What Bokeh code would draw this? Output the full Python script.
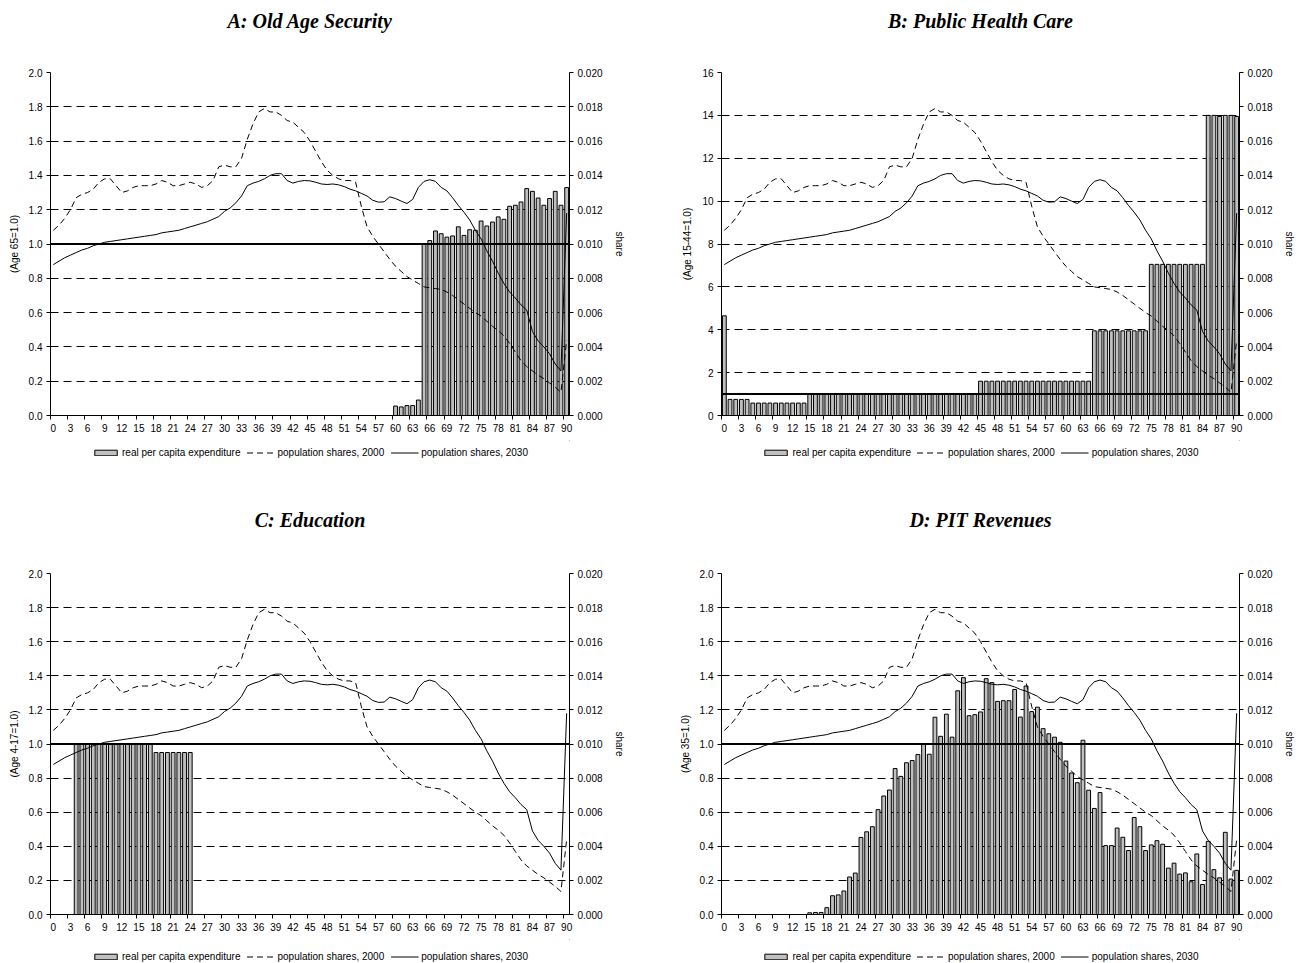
from bokeh.plotting import figure
from bokeh.models import (Range1d, LinearAxis, FixedTicker, Span, Legend, LegendItem,
                          NumeralTickFormatter, Title)
from bokeh.layouts import column, row
from bokeh.embed import file_html
from bokeh.resources import INLINE

# ---------------- data ----------------
ages = list(range(91))
label_ages = list(range(0, 91, 3))

# population shares by single year of age
pop_2000 = [0.0108, 0.0111, 0.0115, 0.0120, 0.0127, 0.0129, 0.0130, 0.0132, 0.0136, 0.0138,
            0.0138, 0.0134, 0.0130, 0.0131, 0.0133, 0.0134, 0.0134, 0.0134, 0.0135, 0.0137,
            0.0136, 0.0134, 0.0134, 0.0135, 0.0136, 0.0135, 0.0133, 0.0134, 0.0137, 0.0145,
            0.0146, 0.0145, 0.0145, 0.0150, 0.0161, 0.0170, 0.0177, 0.0179, 0.0177, 0.0177,
            0.0175, 0.0172, 0.0171, 0.0168, 0.0165, 0.0160, 0.0154, 0.0148, 0.0143, 0.0140,
            0.0138, 0.0137, 0.0137, 0.0136, 0.0122, 0.0110, 0.01045, 0.0100, 0.00955, 0.0091,
            0.0087, 0.0084, 0.0081, 0.0079, 0.0077, 0.0075, 0.00745, 0.0074, 0.00735, 0.0072,
            0.0070, 0.00675, 0.0065, 0.00625, 0.0060, 0.0058, 0.0055, 0.0052, 0.00495, 0.00465,
            0.0042, 0.0037, 0.0032, 0.00285, 0.0026, 0.00235, 0.00215, 0.0019, 0.00165, 0.00135,
            0.0044]
pop_2030 = [0.0088, 0.0090, 0.0092, 0.00935, 0.0095, 0.00965, 0.00975, 0.0099, 0.0100, 0.0101,
            0.01015, 0.0102, 0.01025, 0.0103, 0.01035, 0.0104, 0.01045, 0.0105, 0.01055, 0.01065,
            0.0107, 0.01075, 0.0108, 0.0109, 0.0110, 0.0111, 0.0112, 0.0113, 0.01145, 0.0116,
            0.0119, 0.0121, 0.0124, 0.0128, 0.0134, 0.01355, 0.01365, 0.0138, 0.0140, 0.0141,
            0.0141, 0.0137, 0.01355, 0.01365, 0.0137, 0.01368, 0.0136, 0.0135, 0.01347, 0.0135,
            0.01345, 0.01335, 0.0132, 0.0131, 0.01295, 0.0128, 0.01255, 0.01244, 0.01246, 0.01275,
            0.01265, 0.0125, 0.01236, 0.0126, 0.0133, 0.01365, 0.01375, 0.01365, 0.0133, 0.0131,
            0.0127, 0.01225, 0.01185, 0.0114, 0.0108, 0.0103, 0.0096, 0.0090, 0.0083, 0.0077,
            0.0072, 0.00685, 0.00645, 0.00615, 0.0049, 0.00435, 0.0040, 0.0036, 0.0030, 0.0026,
            0.0118]

# A: Old Age Security (Age 65 = 1.0)
oas = [0.0] * 60 + [0.055, 0.050, 0.058, 0.058, 0.090,
                    1.000, 1.020, 1.076, 1.060, 1.040, 1.047, 1.100, 1.050, 1.083, 1.080,
                    1.134, 1.105, 1.128, 1.158, 1.144, 1.220, 1.226, 1.245, 1.323, 1.307,
                    1.268, 1.226, 1.265, 1.307, 1.226, 1.329]
# B: Public Health Care (Age 15-44 = 1.0)
health = ([4.65] + [0.75] * 4 + [0.58] * 10 + [1.0] * 30 + [1.6] * 20 +
          [3.95] * 10 + [7.05] * 10 + [14.0, 14.0, 13.95, 14.0, 14.0, 13.95])
# C: Education (Age 4-17 = 1.0)
education = [0.0] * 4 + [1.0] * 14 + [0.95] * 7 + [0.0] * 66
# D: PIT Revenues (Age 35 = 1.0)
pit = ([0.0] * 15 +
       [0.010, 0.012, 0.012, 0.040, 0.110, 0.115, 0.138, 0.220, 0.243, 0.452,
        0.485, 0.515, 0.615, 0.695, 0.730, 0.856, 0.810, 0.890, 0.903, 0.938,
        1.000, 0.940, 1.157, 1.045, 1.175, 1.040, 1.312, 1.389, 1.166, 1.172,
        1.188, 1.383, 1.360, 1.250, 1.254, 1.254, 1.320, 1.158, 1.340, 1.190,
        1.216, 1.090, 1.060, 1.040, 1.010, 0.900, 0.830, 0.773, 1.022, 0.729,
        0.622, 0.715, 0.404, 0.404, 0.507, 0.453, 0.375, 0.569, 0.515, 0.375,
        0.408, 0.433, 0.412, 0.272, 0.301, 0.237, 0.244, 0.192, 0.355, 0.176,
        0.429, 0.263, 0.215, 0.482, 0.208, 0.259])

legend_labels = ["real per capita expenditure", "population shares, 2000",
                 "population shares, 2030"]

FONT = "Liberation Sans"
BAR_FILL = "#c0c0c0"


def main_title(text, standoff):
    if text:
        return Title(text=text, text_font="Liberation Serif", text_font_style="bold italic",
                     text_font_size="20px", text_color="black", align="center",
                     standoff=standoff)
    return Title(text="", text_font_size="1px", standoff=0)


def blank_fig(w, h, bl, br):
    f = figure(width=w, height=h, output_backend="svg", toolbar_location=None,
               x_range=Range1d(0, 1), y_range=Range1d(0, 1),
               min_border_left=bl, min_border_right=br, min_border_top=0,
               min_border_bottom=0)
    f.axis.visible = False
    f.grid.visible = False
    f.outline_line_color = None
    return f


def title_fig(text, w, h, bl, br, standoff):
    t = blank_fig(w, h, bl, br)
    t.title = main_title(text, standoff)
    return t


def legend_fig(w, h, bl, br, loc):
    lf = blank_fig(w, h, bl, br)
    lf.title = main_title("", 0)
    # legend proxies: one point each, placed outside this figure's visible range
    rb = lf.vbar(x=[5], top=[5], bottom=[4], width=0.67, fill_color=BAR_FILL,
                 line_color="black")
    r0 = lf.line(x=[5, 6], y=[5, 5], line_color="black", line_width=1, line_dash="6 4")
    r1 = lf.line(x=[5, 6], y=[5, 5], line_color="black", line_width=1)
    leg = Legend(items=[LegendItem(label=legend_labels[0], renderers=[rb]),
                        LegendItem(label=legend_labels[1], renderers=[r0]),
                        LegendItem(label=legend_labels[2], renderers=[r1])],
                 orientation="horizontal", location=loc,
                 label_text_font=FONT, label_text_font_size="10px",
                 label_text_color="black", glyph_width=28, glyph_height=7,
                 label_height=12, label_standoff=3, spacing=6, padding=0, margin=0,
                 border_line_color=None, background_fill_alpha=0)
    lf.add_layout(leg, "center")
    return lf


def style_axis(ax):
    ax.axis_line_color = "black"
    ax.major_tick_line_color = "black"
    ax.minor_tick_line_color = "black"
    ax.major_label_text_font = FONT
    ax.major_label_text_font_size = "10px"
    ax.major_label_text_color = "black"
    ax.axis_label_text_font = FONT
    ax.axis_label_text_font_size = "10px"
    ax.axis_label_text_font_style = "normal"
    ax.axis_label_text_color = "black"


def make_panel(title, title_standoff, ylabel, bars, ymax, ystep, yfmt, w, h, bl, br, bt, bb):
    p = figure(width=w, height=h, output_backend="svg", toolbar_location=None,
               x_range=Range1d(-0.5, 90.5), y_range=Range1d(0, ymax),
               min_border_left=bl, min_border_right=br, min_border_top=bt,
               min_border_bottom=bb)
    p.outline_line_color = None
    p.title = main_title(title, title_standoff)
    p.extra_y_ranges = {"share": Range1d(0, 0.02)}

    nt = int(round(ymax / ystep))
    yticks = [ystep * i for i in range(nt + 1)]

    xa = p.xaxis[0]
    style_axis(xa)
    xa.ticker = FixedTicker(ticks=label_ages, minor_ticks=[a - 0.5 for a in label_ages])
    xa.major_tick_out = 0
    xa.major_tick_in = 0
    xa.minor_tick_out = 4
    xa.minor_tick_in = 0
    xa.major_label_standoff = 4

    ya = p.yaxis[0]
    style_axis(ya)
    ya.ticker = FixedTicker(ticks=yticks)
    ya.formatter = NumeralTickFormatter(format=yfmt)
    ya.major_tick_out = 4
    ya.major_tick_in = 0
    ya.minor_tick_line_color = None
    ya.major_label_standoff = 4
    ya.axis_label = ylabel
    ya.axis_label_standoff = 6

    ra = LinearAxis(y_range_name="share",
                    ticker=FixedTicker(ticks=[0.002 * i for i in range(11)]),
                    formatter=NumeralTickFormatter(format="0.000"), axis_label="share")
    style_axis(ra)
    ra.major_tick_out = 4
    ra.major_tick_in = 0
    ra.minor_tick_line_color = None
    ra.major_label_standoff = 4
    ra.axis_label_standoff = 8
    p.add_layout(ra, "right")

    p.xgrid.visible = False
    p.ygrid.ticker = FixedTicker(ticks=yticks[1:])
    p.ygrid.grid_line_color = "black"
    p.ygrid.grid_line_dash = "8 5"
    p.ygrid.grid_line_width = 1

    p.vbar(x=ages, top=bars, width=0.67, fill_color=BAR_FILL, line_color="black",
           line_width=1)
    p.line(ages, pop_2000, y_range_name="share", line_color="black", line_width=1,
           line_dash="6 4")
    p.line(ages, pop_2030, y_range_name="share", line_color="black", line_width=1)
    p.add_layout(Span(location=1.0, dimension="width", line_color="black", line_width=2))
    return p


# left column (A, C): frame x 50..569 ; right column (B, D): frame x ~717..1239
tA = title_fig("A: Old Age Security", 645, 42, 50, 76, 15)
pA = make_panel("", 0, "(Age 65=1.0)", oas, 2.0, 0.2, "0.0", 645, 398, 50, 76, 30, 25)
lA = legend_fig(645, 24, 50, 76, "center")
pC = make_panel("C: Education", 85, "(Age 4-17=1.0)", education, 2.0, 0.2, "0.0",
                645, 475, 50, 76, 107, 25)
lC = legend_fig(645, 23, 50, 76, "bottom_center")

tB = title_fig("B: Public Health Care", 658, 42, 72, 64, 15)
pB = make_panel("", 0, "(Age 15-44=1.0)", health, 16, 2, "0", 658, 398, 72, 64, 30, 25)
lB = legend_fig(658, 24, 72, 64, "center")
pD = make_panel("D: PIT Revenues", 85, "(Age 35=1.0)", pit, 2.0, 0.2, "0.0",
                658, 475, 76, 64, 107, 25)
lD = legend_fig(658, 23, 76, 64, "bottom_center")

layout = row(column(tA, pA, lA, pC, lC), column(tB, pB, lB, pD, lD))
open("out.html", "w").write(file_html(layout, INLINE))
